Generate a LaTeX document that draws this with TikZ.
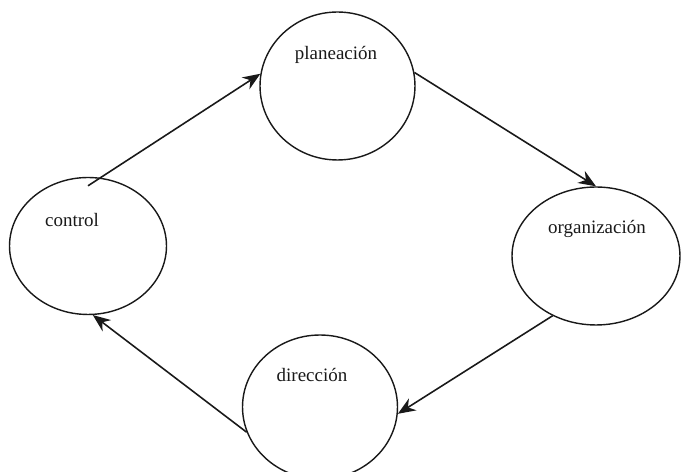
\documentclass[tikz,border=0pt]{standalone}
\usepackage{fontspec}
\setmainfont{Liberation Serif}
\usetikzlibrary{arrows.meta, shapes.geometric}

\begin{document}
\begin{tikzpicture}[
  x=0.02cm,
  y=-0.02cm,
  font=\fontsize{10.8}{13}\selectfont,
  stage/.style={
    draw=black!90,
    ellipse,
    line width=0.8pt,
    inner sep=0pt
  },
  stagelabel/.style={
    text=black!90,
    inner sep=0pt
  },
  flow/.style={
    draw=black!90,
    line width=0.9pt,
    -{Stealth[length=10pt,width=8pt]}
  }
]

\useasboundingbox (0,0) rectangle (681,472);

% Stages
\node[stage, minimum width=3.1cm, minimum height=2.96cm] (pla) at (337.5,86) {};
\node[stage, minimum width=3.36cm, minimum height=2.76cm] (org) at (596,256) {};
\node[stage, minimum width=3.1cm, minimum height=2.88cm] (dir) at (320,407) {};
\node[stage, minimum width=3.14cm, minimum height=2.74cm] (ctl) at (88,246) {};

% Stage names
\node[stagelabel] (pla-txt) at (336,55) {planeación};
\node[stagelabel] (org-txt) at (597,229) {organización};
\node[stagelabel] (dir-txt) at (312,375) {dirección};
\node[stagelabel] (ctl-txt) at (72,220) {control};

% Cycle
\draw[flow] ([yshift=-0.18cm]ctl.north) -- (pla.171);
\draw[flow] (pla.10) -- (org.north);
\draw[flow] (org.234) -- (dir.355);
\draw[flow] (dir.199) -- (ctl.274);

\end{tikzpicture}
\end{document}
